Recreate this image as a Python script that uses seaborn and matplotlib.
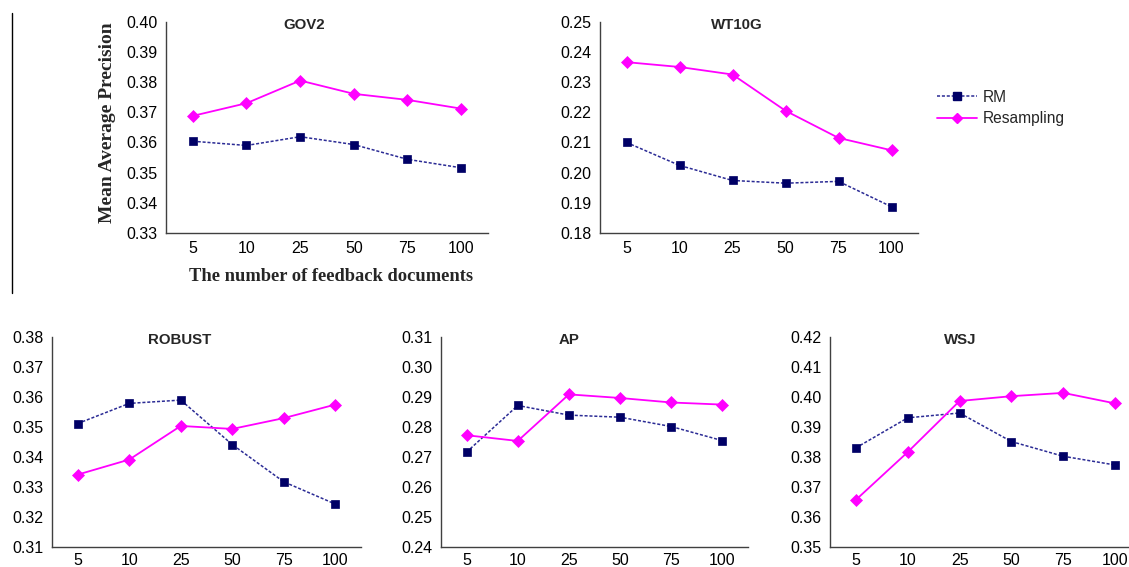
import numpy as np
import pandas as pd
import matplotlib
matplotlib.use("Agg")
import matplotlib.pyplot as plt
from matplotlib.lines import Line2D
import seaborn as sns

# ---- data ----
docs = ["5", "10", "25", "50", "75", "100"]

gov2_rm = [0.3604, 0.3590, 0.3619, 0.3593, 0.3544, 0.3516]
gov2_res = [0.3688, 0.3730, 0.3805, 0.3761, 0.3741, 0.3712]

wt10g_rm = [0.2100, 0.2024, 0.1974, 0.1965, 0.1971, 0.1887]
wt10g_res = [0.2366, 0.2350, 0.2325, 0.2205, 0.2115, 0.2074]

robust_rm = [0.3511, 0.3578, 0.3589, 0.3441, 0.3317, 0.3243]
robust_res = [0.3341, 0.3391, 0.3503, 0.3493, 0.3529, 0.3574]

ap_rm = [0.2716, 0.2871, 0.2839, 0.2832, 0.2801, 0.2754]
ap_res = [0.2772, 0.2753, 0.2908, 0.2896, 0.2881, 0.2874]

wsj_rm = [0.3830, 0.3930, 0.3946, 0.3851, 0.3802, 0.3773]
wsj_res = [0.3657, 0.3816, 0.3986, 0.4002, 0.4013, 0.3978]

titles = ["GOV2", "WT10G", "ROBUST", "AP", "WSJ"]
y_ranges = [(0.33, 0.40), (0.18, 0.25), (0.31, 0.38), (0.24, 0.31), (0.35, 0.42)]
series = [(gov2_rm, gov2_res), (wt10g_rm, wt10g_res), (robust_rm, robust_res),
          (ap_rm, ap_res), (wsj_rm, wsj_res)]

methods = ["RM", "Resampling"]
colors = {"RM": "#000080", "Resampling": "#FF00FF"}

# ---- styling ----
sns.set_style("white")
plt.rcParams["font.family"] = ["Liberation Sans", "DejaVu Sans"]

W, H = 1129, 567
fig = plt.figure(figsize=(W / 100, H / 100), dpi=100)

# axes boxes in pixels: left, right, top, bottom
boxes = [(166, 488, 21.7, 233), (600, 918, 21.7, 233),
         (52, 361, 336.7, 547), (441, 748, 336.7, 547), (830, 1141, 336.7, 547)]
title_x = [0.43, 0.43, 0.414, 0.417, 0.418]
x_pads = [5.5, 5.5, 4.0, 4.0, 4.0]

axes = []
for i, (l, r, t, b) in enumerate(boxes):
    ax = fig.add_axes([l / W, 1 - b / H, (r - l) / W, (b - t) / H])
    rm, res = series[i]
    df = pd.DataFrame({
        "docs": docs * 2,
        "map": list(rm) + list(res),
        "method": ["RM"] * len(docs) + ["Resampling"] * len(docs),
    })
    sns.lineplot(data=df, x="docs", y="map", hue="method", style="method",
                 markers={"RM": "s", "Resampling": "D"},
                 dashes={"RM": (2, 1.2), "Resampling": ""},
                 palette=colors, sort=False, ax=ax, legend=False)
    for ln in ax.lines:
        c = ln.get_color()
        if ln.get_marker() == "s":
            ln.set_markersize(6.0)
            ln.set_linewidth(1.1)
            ln.set_color("#2b2b95")
            ln.set_markerfacecolor("#000066")
            ln.set_markeredgecolor("#000066")
        else:
            ln.set_markersize(6.5)
            ln.set_linewidth(1.3)
            ln.set_markerfacecolor(c)
            ln.set_markeredgecolor(c)
        ln.set_markeredgewidth(0.5)
    lo, hi = y_ranges[i]
    ax.set_ylim(lo, hi)
    ax.set_yticks(np.round(np.arange(lo, hi + 0.001, 0.01), 2))
    ax.yaxis.set_major_formatter(matplotlib.ticker.FormatStrFormatter("%.2f"))
    ax.set_xlim(-0.5, len(docs) - 0.5)
    ax.set_xlabel("")
    ax.set_ylabel("")
    for s in ["top", "right"]:
        ax.spines[s].set_visible(False)
    for s in ["left", "bottom"]:
        ax.spines[s].set_color("#404040")
        ax.spines[s].set_linewidth(1.0)
    ax.tick_params(axis="both", length=0, labelsize=11.5, colors="black")
    ax.tick_params(axis="x", pad=x_pads[i])
    ax.tick_params(axis="y", pad=6)
    ax.patch.set_alpha(0)
    ax.text(title_x[i], 0.985, titles[i], transform=ax.transAxes,
            ha="center", va="center", fontsize=10.8, fontweight="bold")
    axes.append(ax)

# axis labels (serif, bold) for the first panel
fig.text(108 / W, 1 - 122.5 / H, "Mean Average Precision", rotation=90,
         ha="center", va="center", fontsize=14, fontweight="bold",
         family=["Liberation Serif", "DejaVu Serif"])
fig.text(331 / W, 1 - 277 / H, "The number of feedback documents",
         ha="center", va="center", fontsize=13.3, fontweight="bold",
         family=["Liberation Serif", "DejaVu Serif"])

# legend
handles = [
    Line2D([], [], color="#2b2b95", linestyle=(0, (2, 1.2)), lw=1.1, marker="s",
           markersize=6, markerfacecolor="#000066", markeredgecolor="#000066"),
    Line2D([], [], color="#FF00FF", lw=1.3, marker="D", markersize=5,
           markerfacecolor="#FF00FF", markeredgecolor="#FF00FF"),
]
fig.legend(handles, methods, loc="center left",
           bbox_to_anchor=(937 / W, 1 - 108 / H), frameon=False,
           fontsize=11.2, handlelength=2.6, handletextpad=0.35,
           labelspacing=0.4, borderpad=0, borderaxespad=0)

# left border line from the source figure
fig.add_artist(Line2D([12 / W, 12 / W], [1 - 13 / H, 1 - 293 / H],
                      color="black", lw=1.0))

fig.savefig("out.png", dpi=100)
